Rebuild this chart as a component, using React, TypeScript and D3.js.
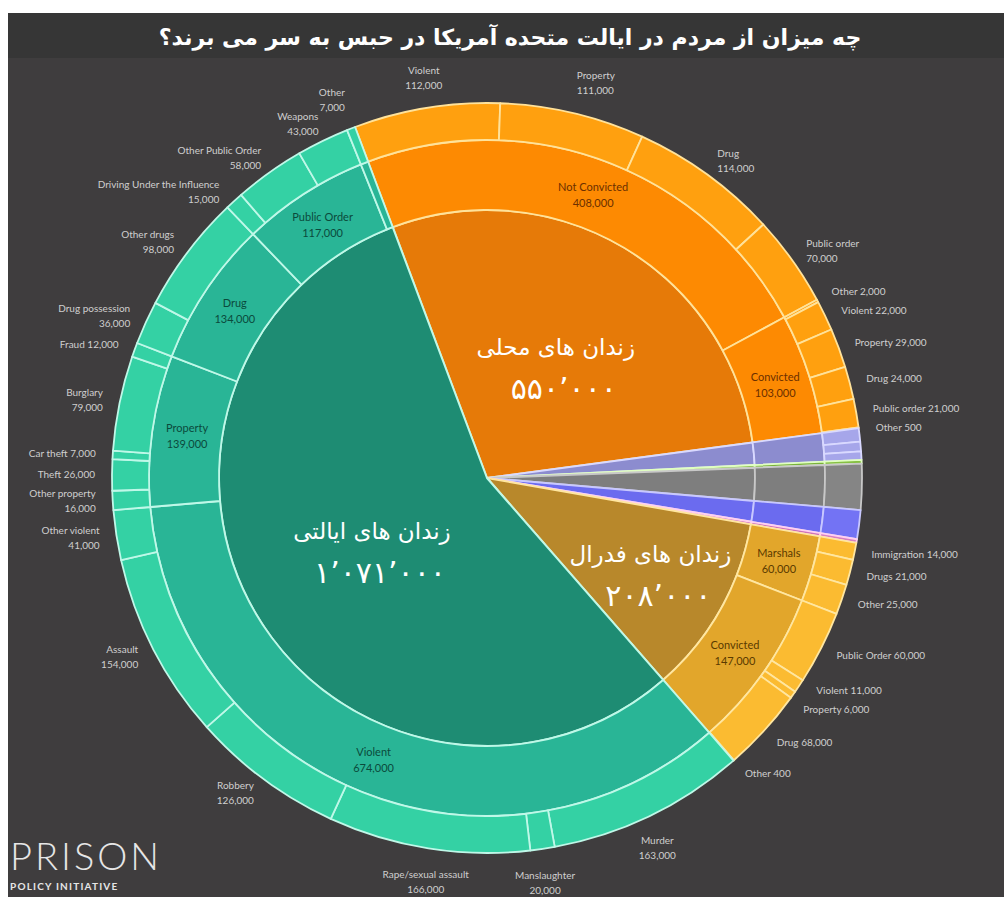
import React from "react";
import * as d3 from "d3";

// ---------------- DATA ----------------
const titleText = "چه میزان از مردم در ایالت متحده آمریکا در حبس به سر می برند؟";

const systemKeys = ["local", "youth", "tribal", "immigration", "civil", "military", "federal", "state"];
const systemNames = ["زندان های محلی", "", "", "", "", "", "زندان های فدرال", "زندان های ایالتی"];
const systemValues = [550000, 26000, 3000, 38000, 24000, 3000, 208000, 1071000];

const localGroups: [string, number][] = [["Not Convicted", 408000], ["Convicted", 103000]];
const localNotConvicted: [string, number][] = [["Violent", 112000], ["Property", 111000], ["Drug", 114000], ["Public order", 70000]];
const localConvicted: [string, number][] = [["Other", 2000], ["Violent", 22000], ["Property", 29000], ["Drug", 24000], ["Public order", 21000], ["Other", 500]];

const youthGroups: [string, number][] = [["", 26000]];
const youthParts: [string, number][] = [["", 11000], ["", 8000], ["", 7000]];
const tribalGroups: [string, number][] = [["", 3000]];
const tribalParts: [string, number][] = [["", 3000]];
const immigrationGroups: [string, number][] = [["", 38000]];
const immigrationParts: [string, number][] = [["", 38000]];
const civilGroups: [string, number][] = [["", 24000]];
const civilParts: [string, number][] = [["", 24000]];
const militaryGroups: [string, number][] = [["", 3000]];
const militaryParts: [string, number][] = [["", 3000]];

const federalGroups: [string, number][] = [["Marshals", 60000], ["Convicted", 147000]];
const federalMarshals: [string, number][] = [["Immigration", 14000], ["Drugs", 21000], ["Other", 25000]];
const federalConvicted: [string, number][] = [["Public Order", 60000], ["Violent", 11000], ["Property", 6000], ["Drug", 68000], ["Other", 400]];

const stateGroups: [string, number][] = [["Violent", 674000], ["Property", 139000], ["Drug", 134000], ["Public Order", 117000], ["Other", 7000]];
const stateViolent: [string, number][] = [["Murder", 163000], ["Manslaughter", 20000], ["Rape/sexual assault", 166000], ["Robbery", 126000], ["Assault", 154000], ["Other violent", 41000]];
const stateProperty: [string, number][] = [["Other property", 16000], ["Theft", 26000], ["Car theft", 7000], ["Burglary", 79000], ["Fraud", 12000]];
const stateDrug: [string, number][] = [["Drug possession", 36000], ["Other drugs", 98000]];
const statePublicOrder: [string, number][] = [["Driving Under the Influence", 15000], ["Other Public Order", 58000], ["Weapons", 43000]];
const stateOther: [string, number][] = [["Other", 7000]];

const oneLineLabels = ["Fraud", "Theft", "Car theft"];

// ---------------- STYLE ----------------
const W = 996, H = 889;
const CX = 479, CY = 470;
const RINGS = [0, 268, 338, 375];
const START = (-20.6 * Math.PI) / 180;
const R_LBL = 392;

const palette: Record<string, { fill: string[]; stroke: string; text: string }> = {
  local: { fill: ["#e67a08", "#fd8a02", "#ffa00f"], stroke: "#ffe29a", text: "#6b2f00" },
  youth: { fill: ["#8c8ccf", "#8c8ccf", "#a6a6ea"], stroke: "#d9d9ff", text: "#333" },
  tribal: { fill: ["#79b23a", "#79b23a", "#86c043"], stroke: "#e0ffc0", text: "#333" },
  immigration: { fill: ["#7e7e7e", "#7e7e7e", "#858585"], stroke: "#c8c8c8", text: "#333" },
  civil: { fill: ["#6b6bef", "#6b6bef", "#7373f4"], stroke: "#c8c8ff", text: "#333" },
  military: { fill: ["#cf72b8", "#cf72b8", "#d77fc0"], stroke: "#ffd0f0", text: "#333" },
  federal: { fill: ["#b8882b", "#e2a62b", "#fbbb31"], stroke: "#ffe6a0", text: "#5a3a00" },
  state: { fill: ["#1e8c73", "#29b596", "#34d1a4"], stroke: "#bff8e8", text: "#0b4a3c" },
};

const groupTable: Record<string, [string, number][]> = {
  local: localGroups, youth: youthGroups, tribal: tribalGroups, immigration: immigrationGroups,
  civil: civilGroups, military: militaryGroups, federal: federalGroups, state: stateGroups,
};
const leafTable: Record<string, [string, number][][]> = {
  local: [localNotConvicted, localConvicted],
  youth: [youthParts], tribal: [tribalParts], immigration: [immigrationParts],
  civil: [civilParts], military: [militaryParts],
  federal: [federalMarshals, federalConvicted],
  state: [stateViolent, stateProperty, stateDrug, statePublicOrder, stateOther],
};

type Seg = { depth: number; a0: number; a1: number; name: string; value: number; sys: string };

const fmt = d3.format(",");
const toPersian = (v: number) =>
  fmt(v).replace(/,/g, "٬").replace(/\d/g, (d) => "۰۱۲۳۴۵۶۷۸۹"[+d]);

function buildSegments(): Seg[] {
  const segs: Seg[] = [];
  const total = d3.sum(systemValues);
  const ang = d3.scaleLinear().domain([0, total]).range([START, START + 2 * Math.PI]);
  let cum = 0;
  systemKeys.forEach((key, i) => {
    const a0 = ang(cum);
    cum += systemValues[i];
    const a1 = ang(cum);
    segs.push({ depth: 1, a0, a1, name: systemNames[i], value: systemValues[i], sys: key });
    const groups = groupTable[key];
    const gAng = d3.scaleLinear().domain([0, d3.sum(groups, (g) => g[1])]).range([a0, a1]);
    let gc = 0;
    groups.forEach((g, gi) => {
      const b0 = gAng(gc);
      gc += g[1];
      const b1 = gAng(gc);
      segs.push({ depth: 2, a0: b0, a1: b1, name: g[0], value: g[1], sys: key });
      const leaves = leafTable[key][gi];
      const lAng = d3.scaleLinear().domain([0, d3.sum(leaves, (l) => l[1])]).range([b0, b1]);
      let lc = 0;
      leaves.forEach((l) => {
        const c0 = lAng(lc);
        lc += l[1];
        const c1 = lAng(lc);
        segs.push({ depth: 3, a0: c0, a1: c1, name: l[0], value: l[1], sys: key });
      });
    });
  });
  return segs;
}

type Lbl = { x: number; cy: number; anchor: string; lines: string[]; h: number; free: boolean; sign: number };

function buildLabels(segs: Seg[]): Lbl[] {
  const lineH = 15;
  const labels: Lbl[] = [];
  segs
    .filter((s) => s.depth === 3 && s.name !== "")
    .forEach((s) => {
      const m = (s.a0 + s.a1) / 2;
      const sn = Math.sin(m), cs = Math.cos(m);
      const deg = (((m * 180) / Math.PI) % 360 + 360) % 360;
      const single = (deg > 56 && deg < 142) || oneLineLabels.includes(s.name);
      const lines = single ? [`${s.name} ${fmt(s.value)}`] : [s.name, fmt(s.value)];
      const h = lines.length * lineH;
      const x = R_LBL * sn, y = -R_LBL * cs;
      if (cs > 0.9) {
        labels.push({ x, cy: y - h / 2 + 2, anchor: Math.abs(sn) < 0.2 ? "middle" : sn > 0 ? "start" : "end", lines, h, free: false, sign: Math.sign(sn) });
      } else if (cs < -0.9) {
        labels.push({ x, cy: y + h / 2 + 2, anchor: "middle", lines, h, free: false, sign: Math.sign(sn) });
      } else {
        labels.push({ x, cy: y, anchor: sn > 0 ? "start" : "end", lines, h, free: true, sign: Math.sign(sn) });
      }
    });
  ["start", "end"].forEach((side) => {
    const arr = labels.filter((l) => l.free && l.anchor === side).sort((a, b) => a.cy - b.cy);
    for (let it = 0; it < 200; it++) {
      for (let i = 0; i < arr.length - 1; i++) {
        const need = (arr[i].h + arr[i + 1].h) / 2 + 4;
        const gap = arr[i + 1].cy - arr[i].cy;
        if (gap < need) {
          const d = (need - gap) / 2;
          arr[i].cy -= d;
          arr[i + 1].cy += d;
        }
      }
    }
    arr.forEach((l) => {
      const minX = R_LBL * 0.43;
      l.x = l.sign * Math.sqrt(Math.max(R_LBL * R_LBL - l.cy * l.cy, minX * minX));
    });
  });
  return labels;
}

export default function App() {
  const segs = buildSegments();
  const labels = buildLabels(segs);
  const arc = d3
    .arc<Seg>()
    .innerRadius((d) => RINGS[d.depth - 1])
    .outerRadius((d) => RINGS[d.depth])
    .startAngle((d) => d.a0)
    .endAngle((d) => d.a1);

  const bigSystems = segs.filter((s) => s.depth === 1 && s.name !== "");
  const midLabels = segs.filter(
    (s) => s.depth === 2 && s.name !== "" && (s.a1 - s.a0) * (180 / Math.PI) > 8
  );

  return (
    <svg
      width={W}
      height={H}
      style={{ position: "absolute", left: 8, top: 8, display: "block" }}
    >
      <rect x={0} y={5} width={W} height={H - 5} fill="#3f3d3e" />
      <rect x={0} y={5} width={W} height={45} fill="#363636" />
      <text
        x={502}
        y={37}
        textAnchor="middle"
        fill="#ffffff"
        fontFamily="'DejaVu Sans', sans-serif"
        fontWeight="bold"
        fontSize={22}
        direction="rtl"
      >
        {titleText}
      </text>

      <g transform={`translate(${CX},${CY})`}>
        {segs.map((s, i) => (
          <path
            key={i}
            d={arc(s) || ""}
            fill={palette[s.sys].fill[s.depth - 1]}
            stroke={palette[s.sys].stroke}
            strokeWidth={s.depth === 1 ? 2 : 1.8}
            strokeLinejoin="round"
          />
        ))}

        {midLabels.map((s, i) => {
          const m = (s.a0 + s.a1) / 2;
          const r = (RINGS[1] + RINGS[2]) / 2;
          const x = r * Math.sin(m), y = -r * Math.cos(m);
          return (
            <text
              key={"m" + i}
              x={x}
              y={y - 3}
              textAnchor="middle"
              fill={palette[s.sys].text}
              fontFamily="Lato, 'Open Sans', sans-serif"
              fontSize={11}
            >
              <tspan x={x} dy={0}>{s.name}</tspan>
              <tspan x={x} dy={16}>{fmt(s.value)}</tspan>
            </text>
          );
        })}

        {bigSystems.map((s, i) => {
          const m = (s.a0 + s.a1) / 2;
          const span = ((s.a1 - s.a0) * 180) / Math.PI;
          const r = RINGS[1] * (span > 90 ? 0.5 : 0.7);
          const x = r * Math.sin(m), y = -r * Math.cos(m);
          return (
            <g key={"b" + i}>
              <text
                x={x}
                y={y - 8}
                textAnchor="middle"
                fill="#ffffff"
                fontFamily="'DejaVu Sans', sans-serif"
                fontSize={23}
                direction="rtl"
              >
                {s.name}
              </text>
              <text
                x={x + 8}
                y={y + 36}
                textAnchor="middle"
                fill="#ffffff"
                fontFamily="'DejaVu Sans', sans-serif"
                fontSize={30}
                direction="rtl"
              >
                {toPersian(s.value)}
              </text>
            </g>
          );
        })}

        {labels.map((l, i) => (
          <text
            key={"l" + i}
            textAnchor={l.anchor as any}
            fill="#cfcfcf"
            fontFamily="Lato, 'Open Sans', sans-serif"
            fontSize={10}
          >
            {l.lines.map((t, j) => (
              <tspan key={j} x={l.x} y={l.cy - l.h / 2 + 11 + j * 15}>
                {t}
              </tspan>
            ))}
          </text>
        ))}
      </g>

      <text x={2} y={862} fill="#e6e6e6" fontFamily="Lato, sans-serif" fontSize={38} fontWeight={300} letterSpacing={3}>
        PRISON
      </text>
      <text x={2} y={882} fill="#e6e6e6" fontFamily="Lato, sans-serif" fontSize={10} fontWeight={700} letterSpacing={1.2}>
        POLICY INITIATIVE
      </text>
    </svg>
  );
}
